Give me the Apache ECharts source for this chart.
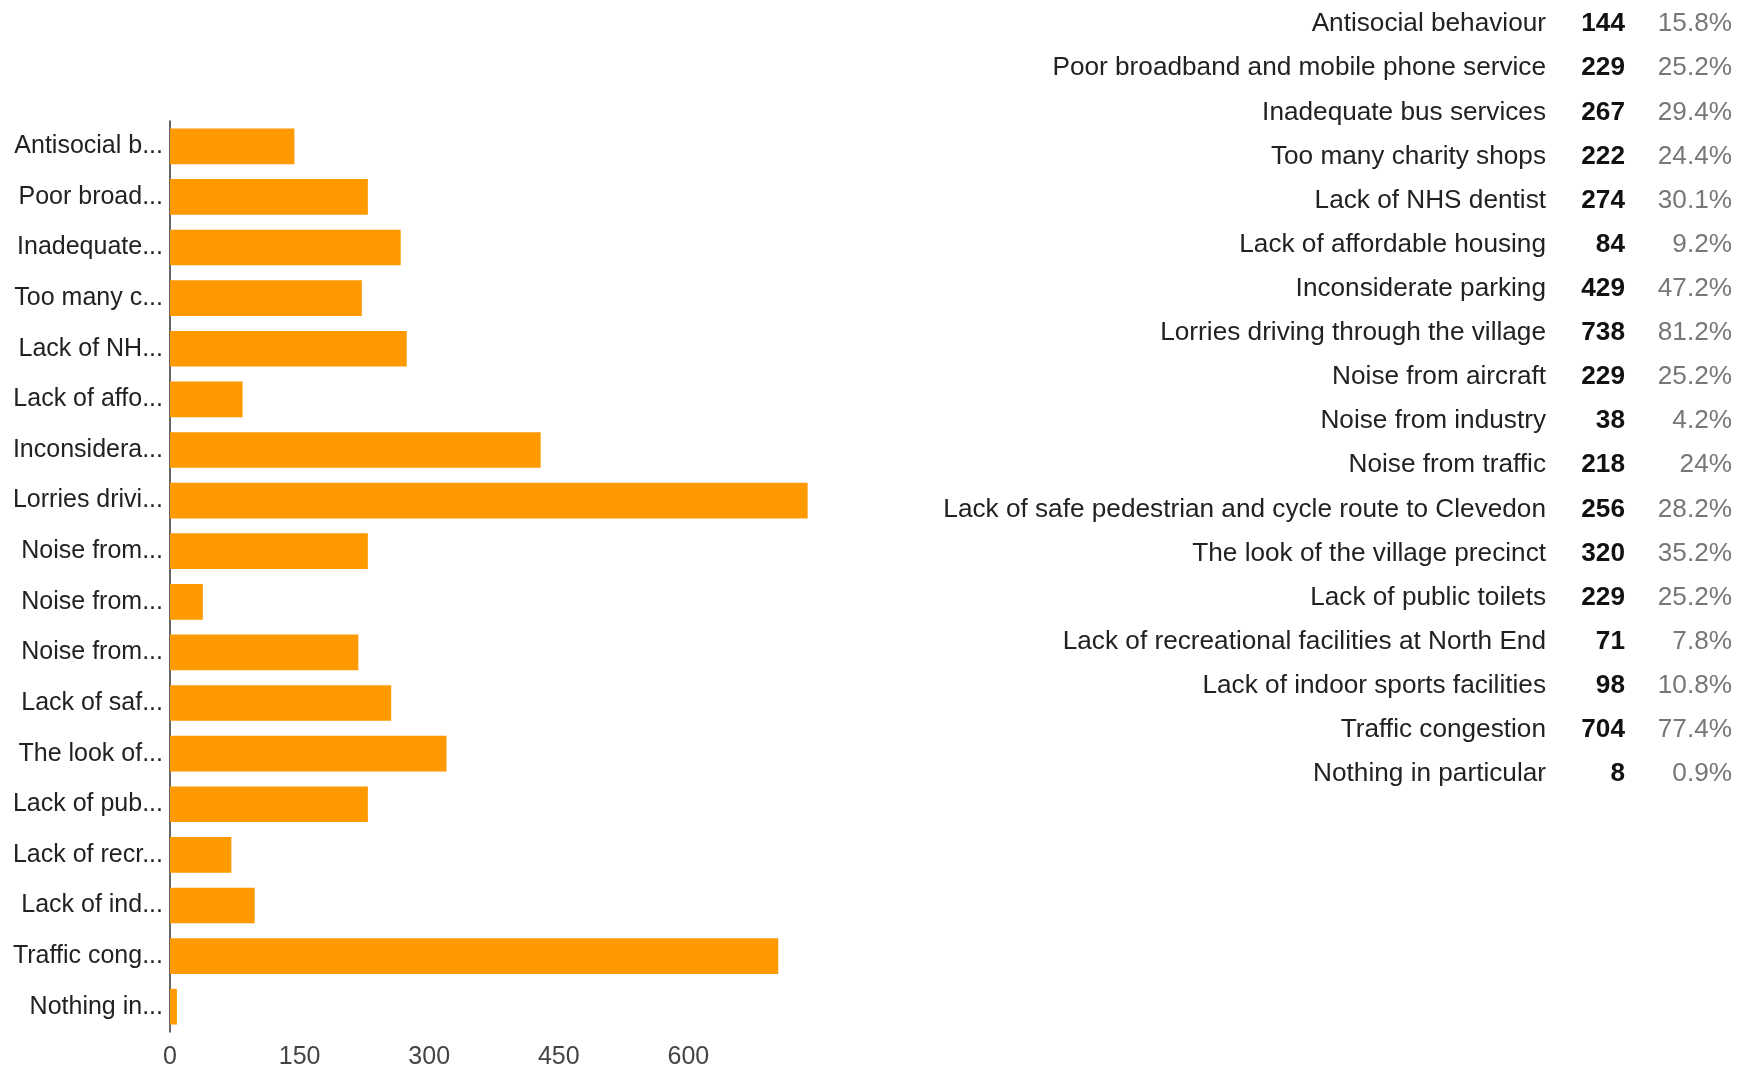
<!DOCTYPE html>
<html>
<head>
<meta charset="utf-8">
<script src="https://cdn.jsdelivr.net/npm/echarts@6/dist/echarts.min.js"></script>
<style>
html,body{margin:0;padding:0;background:#fff;}
#chart{width:1749px;height:1070px;}
</style>
</head>
<body>
<div id="chart"></div>
<script>
var categories = [
  "Antisocial behaviour",
  "Poor broadband and mobile phone service",
  "Inadequate bus services",
  "Too many charity shops",
  "Lack of NHS dentist",
  "Lack of affordable housing",
  "Inconsiderate parking",
  "Lorries driving through the village",
  "Noise from aircraft",
  "Noise from industry",
  "Noise from traffic",
  "Lack of safe pedestrian and cycle route to Clevedon",
  "The look of the village precinct",
  "Lack of public toilets",
  "Lack of recreational facilities at North End",
  "Lack of indoor sports facilities",
  "Traffic congestion",
  "Nothing in particular"
];
var counts = [144, 229, 267, 222, 274, 84, 429, 738, 229, 38, 218, 256, 320, 229, 71, 98, 704, 8];
var percents = [15.8, 25.2, 29.4, 24.4, 30.1, 9.2, 47.2, 81.2, 25.2, 4.2, 24, 28.2, 35.2, 25.2, 7.8, 10.8, 77.4, 0.9];
var xTicks = [0, 150, 300, 450, 600];

var FONT = "'Liberation Sans', Arial, sans-serif";
var LABEL_SIZE = 25;
var LABEL_LIMIT = 152.5;

// truncate a category name to fit the label column, the way the original did
var measureCtx = document.createElement('canvas').getContext('2d');
function truncateLabel(text) {
  measureCtx.font = LABEL_SIZE + 'px ' + FONT;
  if (measureCtx.measureText(text).width <= LABEL_LIMIT) return text;
  var best = '';
  for (var i = 1; i <= text.length; i++) {
    var prefix = text.slice(0, i);
    if (measureCtx.measureText(prefix + '...').width <= LABEL_LIMIT) best = prefix;
    else break;
  }
  return best.replace(/\s+$/, '') + '...';
}

var chart = echarts.init(document.getElementById('chart'));
chart.setOption({
  backgroundColor: '#ffffff',
  animation: false,
  textStyle: { fontFamily: FONT },
  grid: [
    { left: 170, top: 121, width: 648, height: 912, containLabel: false },
    { left: 1740, top: 2, width: 1, height: 794, containLabel: false }
  ],
  xAxis: [
    {
      gridIndex: 0, type: 'value', min: 0, max: 750, interval: 150,
      axisLine: { show: false }, axisTick: { show: false }, splitLine: { show: false },
      axisLabel: {
        fontSize: 25, color: '#444', fontFamily: FONT, margin: 13,
        formatter: function (v) { return xTicks.indexOf(v) >= 0 ? String(v) : ''; }
      }
    },
    { gridIndex: 1, type: 'value', min: 0, max: 1, show: false }
  ],
  yAxis: [
    {
      gridIndex: 0, type: 'category', inverse: true, data: categories,
      axisLine: { show: true, lineStyle: { color: '#333', width: 1.5 } },
      axisTick: { show: false }, splitLine: { show: false },
      axisLabel: {
        fontSize: LABEL_SIZE, color: '#222', fontFamily: FONT, margin: 7,
        formatter: function (v) { return truncateLabel(v); }
      }
    },
    {
      gridIndex: 1, type: 'category', inverse: true, data: categories,
      axisLine: { show: false }, axisTick: { show: false }, splitLine: { show: false },
      axisLabel: {
        margin: 8,
        formatter: function (v, i) {
          return '{n|' + v + '}{c|' + counts[i] + '}{p|' + percents[i] + '%}';
        },
        rich: {
          n: { width: 720, align: 'right', fontSize: 26.2, color: '#222', fontFamily: FONT },
          c: { width: 79, align: 'right', fontSize: 26.2, color: '#111', fontWeight: 'bold', fontFamily: FONT },
          p: { width: 107, align: 'right', fontSize: 26.2, color: '#777', fontFamily: FONT }
        }
      }
    }
  ],
  series: [
    {
      type: 'bar', xAxisIndex: 0, yAxisIndex: 0, data: counts,
      barCategoryGap: '29.5%',
      itemStyle: { color: '#ff9900' }
    }
  ]
});
</script>
</body>
</html>
